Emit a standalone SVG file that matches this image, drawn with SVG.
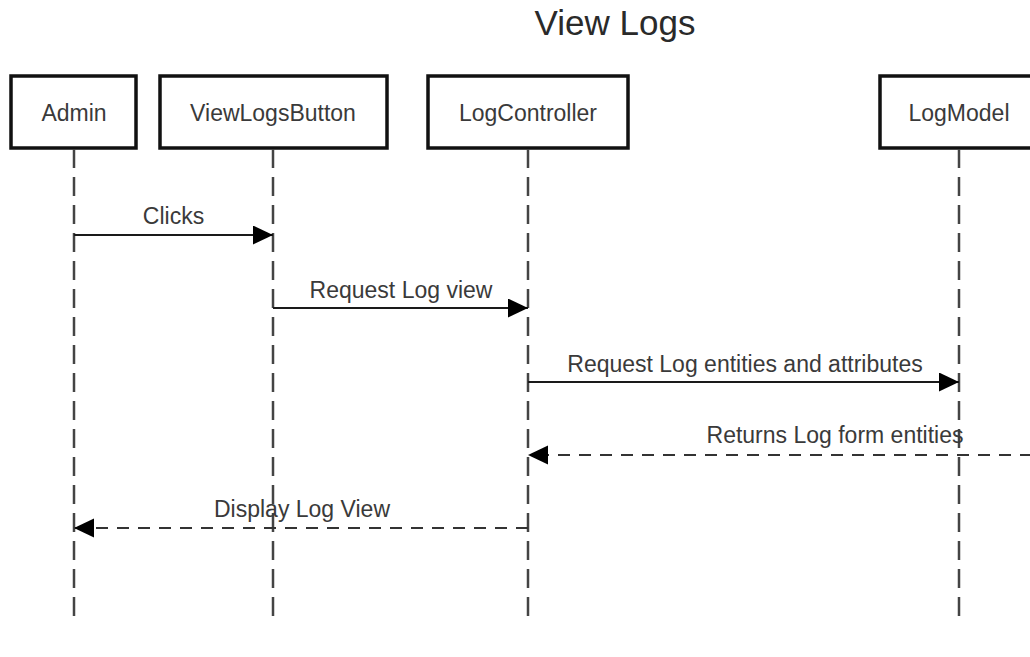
<svg xmlns="http://www.w3.org/2000/svg" width="1030" height="657" viewBox="0 0 1030 657">
  <style>
    .box { fill: #ffffff; stroke: #111111; stroke-width: 3.5; }
    .lbl { font-family: "Liberation Sans", Arial, sans-serif; font-size: 23px; fill: #3a3a3a; text-anchor: middle; }
    .title { font-family: "Liberation Sans", Arial, sans-serif; font-size: 35px; fill: #2a2a2a; text-anchor: middle; }
    .life { stroke: #444444; stroke-width: 2.5; stroke-dasharray: 19 9; fill: none; }
    .msg { stroke: #1a1a1a; stroke-width: 2; fill: none; marker-end: url(#arrow); }
    .ret { stroke: #333333; stroke-width: 2; fill: none; stroke-dasharray: 12 9; marker-end: url(#arrow); }
  </style>
  <defs>
    <marker id="arrow" markerUnits="userSpaceOnUse" markerWidth="22" markerHeight="20" refX="20" refY="9.5" orient="auto" viewBox="0 0 22 20">
      <path d="M0,0 L20,9.5 L0,19 z" fill="#000000" stroke="none"/>
    </marker>
  </defs>
  <rect width="1030" height="657" fill="#ffffff"/>
  <text class="title" x="615" y="35">View Logs</text>

  <g id="admin">
    <rect class="box" x="11" y="76" width="125" height="72"/>
    <text class="lbl" x="74" y="121">Admin</text>
    <line class="life" x1="74" y1="149" x2="74" y2="617"/>
  </g>
  <g id="viewlogsbutton">
    <rect class="box" x="160" y="76" width="227" height="72"/>
    <text class="lbl" x="273" y="121">ViewLogsButton</text>
    <line class="life" x1="273" y1="149" x2="273" y2="617"/>
  </g>
  <g id="logcontroller">
    <rect class="box" x="428" y="76" width="200" height="72"/>
    <text class="lbl" x="528" y="121">LogController</text>
    <line class="life" x1="528" y1="149" x2="528" y2="617"/>
  </g>
  <g id="logmodel">
    <rect class="box" x="880" y="76" width="170" height="72"/>
    <text class="lbl" x="959" y="121">LogModel</text>
    <line class="life" x1="959" y1="149" x2="959" y2="617"/>
  </g>

  <g id="connectors">
    <line class="msg" x1="74" y1="235" x2="273" y2="235"/>
    <text class="lbl" x="173.5" y="224">Clicks</text>
    <line class="msg" x1="273" y1="308" x2="528" y2="308"/>
    <text class="lbl" x="401" y="298">Request Log view</text>
    <line class="msg" x1="528" y1="382" x2="959" y2="382"/>
    <text class="lbl" x="745" y="372">Request Log entities and attributes</text>
    <line class="ret" x1="1032" y1="455" x2="528" y2="455"/>
    <text class="lbl" x="835" y="443">Returns Log form entities</text>
    <line class="ret" x1="528" y1="528" x2="74" y2="528"/>
    <text class="lbl" x="302" y="517">Display Log View</text>
  </g>
</svg>
